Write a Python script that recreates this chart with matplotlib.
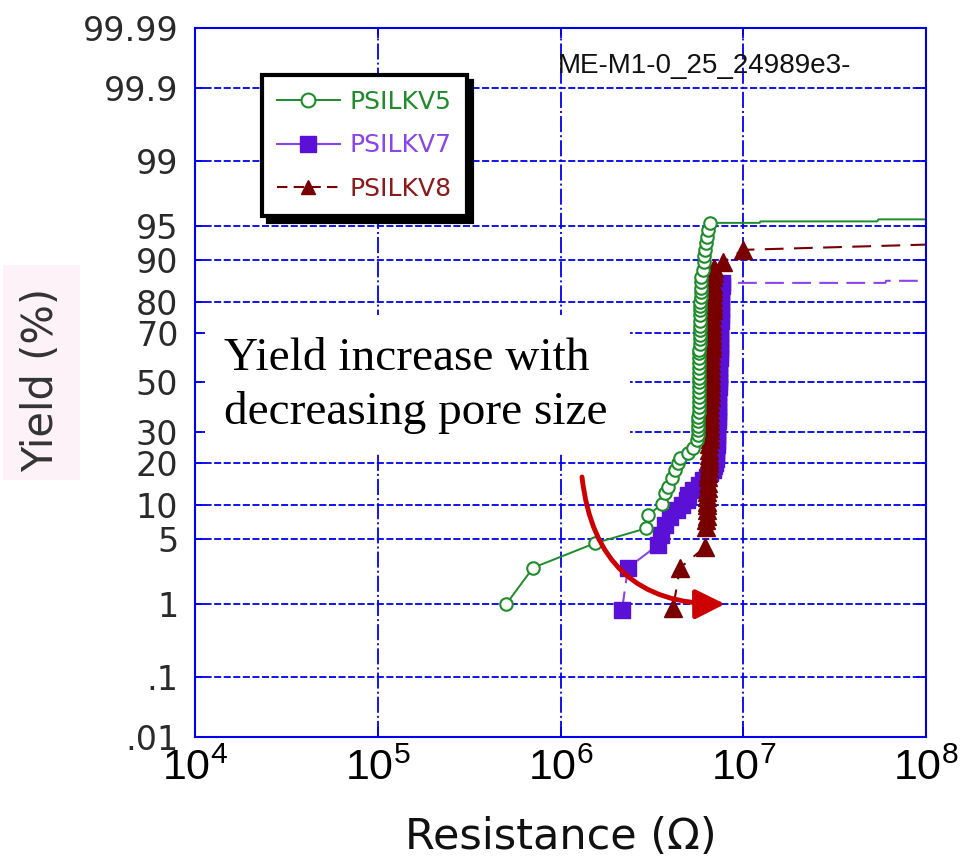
import math
import numpy as np
import matplotlib
matplotlib.use('Agg')
import matplotlib.pyplot as plt
from matplotlib.lines import Line2D
from matplotlib.patches import Rectangle
from matplotlib.ticker import NullLocator

# PSILKV5 (open circles) - resistance in ohm, cumulative yield in %
psilkv5_r = [5.04e5, 7.08e5, 1.55e6, 2.94e6, 3.01e6, 3.59e6, 3.73e6, 3.87e6, 4.07e6,
             4.23e6, 4.40e6, 4.51e6, 4.99e6, 5.31e6, 5.58e6,
             5.62e6, 5.65e6, 5.67e6, 5.68e6, 5.69e6, 5.70e6, 5.70e6, 5.71e6, 5.71e6,
             5.72e6, 5.72e6, 5.73e6, 5.73e6, 5.74e6, 5.74e6, 5.75e6, 5.75e6, 5.76e6,
             5.76e6, 5.77e6, 5.77e6, 5.78e6, 5.78e6, 5.79e6, 5.80e6, 5.80e6, 5.81e6,
             5.82e6, 5.83e6, 5.84e6, 5.85e6, 5.86e6, 5.88e6, 5.90e6,
             6.00e6, 6.08e6, 6.12e6, 6.18e6, 6.25e6, 6.34e6, 6.45e6, 6.58e6]
psilkv5_y = [1.0, 2.6, 4.6, 6.3, 8.2, 10.1, 12.3, 13.6, 15.8,
             17.9, 19.9, 21.4, 23.0, 24.6, 27.3,
             29, 31, 32.5, 34.5, 36, 38, 40, 42, 44,
             46, 48, 50, 52, 54, 56, 58, 60, 62,
             63.5, 65.5, 67.5, 69, 71, 72.5, 74, 76, 77.5,
             79, 80, 81.5, 83, 84, 85.5, 86.5,
             88, 89.7, 90.8, 91.8, 92.8, 93.7, 94.5, 95.3]
psilkv5_tail_r = [1.23e7, 1.24e7, 5.4e7, 5.5e7, 3e8]
psilkv5_tail_y = [95.3, 95.45, 95.45, 95.65, 95.65]

# PSILKV7 (filled squares)
psilkv7_r = [2.17e6, 2.34e6, 3.41e6, 3.55e6, 3.73e6, 3.97e6, 4.34e6, 4.60e6, 4.92e6,
             5.00e6, 5.31e6, 5.70e6, 6.03e6,
             6.3e6, 6.6e6, 6.8e6, 6.9e6, 7.0e6, 7.05e6, 7.1e6, 7.1e6, 7.15e6, 7.15e6,
             7.2e6, 7.2e6, 7.22e6, 7.24e6, 7.25e6, 7.26e6, 7.28e6, 7.3e6, 7.3e6,
             7.32e6, 7.33e6, 7.35e6, 7.36e6, 7.38e6, 7.4e6, 7.4e6, 7.42e6, 7.44e6,
             7.45e6, 7.46e6, 7.48e6, 7.5e6, 7.5e6, 7.52e6, 7.54e6, 7.55e6, 7.55e6]
psilkv7_y = [0.85, 2.6, 4.4, 5.5, 6.7, 7.9, 9.0, 10.0, 10.9,
             12.0, 13.0, 14.0, 15.3,
             16, 17, 18, 19, 20, 21, 22.5, 24, 25.5, 27,
             29, 31, 32.5, 34.5, 36, 38, 40, 42, 44,
             46, 48, 50, 52, 54, 56, 58, 60, 62,
             64, 66, 68, 70, 72, 74, 76, 78, 80]
psilkv7_top_r = [7.58e6, 7.6e6, 7.62e6, 7.65e6]
psilkv7_top_y = [81.5, 83, 84.5, 85.2]
psilkv7_tail_r = [6.0e7, 6.05e7, 3e8]
psilkv7_tail_y = [85.2, 85.7, 85.7]

# PSILKV8 (filled triangles)
psilkv8_r = [4.13e6, 4.51e6, 6.18e6,
             6.25e6, 6.28e6, 6.30e6, 6.30e6, 6.32e6, 6.33e6, 6.35e6, 6.36e6, 6.38e6,
             6.40e6, 6.42e6, 6.44e6, 6.46e6, 6.48e6, 6.50e6, 6.50e6, 6.52e6, 6.53e6,
             6.54e6, 6.55e6, 6.56e6, 6.57e6, 6.58e6, 6.59e6, 6.60e6, 6.60e6, 6.61e6,
             6.62e6, 6.63e6, 6.64e6, 6.65e6, 6.66e6, 6.67e6, 6.68e6, 6.69e6, 6.70e6,
             6.70e6, 6.71e6, 6.72e6, 6.73e6, 6.74e6, 6.75e6, 6.76e6, 6.77e6, 6.78e6,
             6.79e6, 6.80e6, 6.80e6, 6.82e6, 6.83e6, 6.84e6, 6.85e6, 6.87e6, 6.90e6,
             6.95e6, 7.75e6, 9.99e6]
psilkv8_y = [0.9, 2.6, 4.2,
             6.5, 7.5, 8, 9, 10, 10.5, 11.5, 12.5, 13.5,
             14.5, 16, 17, 18.5, 20, 21, 22.5, 24, 26,
             27.5, 29, 31, 32.5, 34.5, 36, 38, 40, 42,
             44, 46, 48, 50, 52, 54, 56, 58, 60,
             62, 64, 65.5, 67.5, 69, 71, 72.5, 74, 76,
             77.5, 79, 80, 81.5, 83, 84, 85, 86.5, 87.5,
             88.5, 89.7, 91.8]
psilkv8_tail_r = [1.0e8]
psilkv8_tail_y = [92.6]

yticks = [0.01, 0.1, 1, 5, 10, 20, 30, 50, 70, 80, 90, 95, 99, 99.9, 99.99]
ylabels = ['.01', '.1', '1', '5', '10', '20', '30', '50', '70', '80', '90', '95',
           '99', '99.9', '99.99']
xticks = [1e4, 1e5, 1e6, 1e7, 1e8]
xlabels = [r'$\mathdefault{10^{%d}}$' % k for k in range(4, 9)]

green = '#1e8c2a'
purple = '#5a10d6'
purple_line = '#8a45ea'
darkred = '#780000'
blue = '#0000ee'

W, H = 963, 863
fig = plt.figure(figsize=(W / 100, H / 100), dpi=100)
ax = fig.add_axes([195 / W, 1 - 737 / H, (926 - 195) / W, (737 - 28) / H])

# normal probability scale for the yield axis
zgrid = np.linspace(-6, 6, 12001)
pgrid = 50 * (1 + np.vectorize(math.erf)(zgrid / math.sqrt(2)))


def prob_fwd(p):
    return np.interp(p, pgrid, zgrid)


def prob_inv(z):
    return np.interp(z, zgrid, pgrid)


ax.set_xscale('log')
ax.set_yscale('function', functions=(prob_fwd, prob_inv))

r7 = psilkv7_r + psilkv7_top_r
y7 = psilkv7_y + psilkv7_top_y
ax.plot(r7 + psilkv7_tail_r, y7 + psilkv7_tail_y, color=purple_line,
        lw=1.5, dashes=(9, 4), marker='s', ms=12, mfc=purple, mec=purple,
        markevery=list(range(len(r7))))
ax.plot(psilkv8_r + psilkv8_tail_r, psilkv8_y + psilkv8_tail_y, color=darkred,
        lw=1.5, dashes=(9, 5), marker='^', ms=12.5, mfc=darkred, mec=darkred,
        markevery=list(range(len(psilkv8_r))))
ax.plot(psilkv5_r + psilkv5_tail_r, psilkv5_y + psilkv5_tail_y, color=green,
        lw=1.4, marker='o', ms=9, mfc='white', mec=green, mew=1.5,
        markevery=list(range(len(psilkv5_r))))

ax.set_xlim(1e4, 1e8)
ax.set_ylim(0.01, 99.99)
ax.set_xticks(xticks, labels=xlabels, fontsize=31, fontfamily='Liberation Sans')
ax.set_yticks(yticks, labels=ylabels, fontsize=24, fontfamily='DejaVu Sans',
              color='#2a2a2a')
ax.xaxis.set_minor_locator(NullLocator())
ax.yaxis.set_minor_locator(NullLocator())
ax.tick_params(which='both', direction='in', length=7, width=1.3, color=blue,
               top=True, right=True)
ax.tick_params(axis='x', pad=8)
ax.tick_params(axis='y', pad=12)
ax.xaxis.grid(True, color=blue, lw=1.3, linestyle=(0, (8.9, 1.7, 1.1, 1.7)))
ax.yaxis.grid(True, color=blue, lw=1.3, linestyle=(0, (3.9, 1.4)))
for s in ax.spines.values():
    s.set_color(blue)
    s.set_linewidth(1.5)

ax.set_xlabel('Resistance (\u03a9)', fontsize=31, fontfamily='DejaVu Sans',
              color='#111111', labelpad=20)

# y label with its pale pink backing
fig.patches.append(Rectangle((3 / W, 1 - 480 / H), 77 / W, 215 / H,
                             transform=fig.transFigure, facecolor='#fdf2f8',
                             edgecolor='none'))
fig.text(41 / W, 1 - 380 / H, 'Yield (%)', rotation=90, ha='center', va='center',
         fontsize=30, fontfamily='DejaVu Sans', color='#333333')

fig.text(558 / W, 1 - 66 / H, 'ME-M1-0_25_24989e3-', ha='left', va='center',
         fontsize=20, fontfamily='Liberation Sans', color='#111111')

# legend
handles = [
    Line2D([], [], color=green, lw=1.4, marker='o', ms=10, mfc='white', mec=green,
           mew=1.5),
    Line2D([], [], color=purple_line, lw=1.5, marker='s', ms=12, mfc=purple,
           mec=purple),
    Line2D([], [], color=darkred, lw=1.5, dashes=(5, 3), marker='^', ms=10,
           mfc=darkred, mec=darkred),
]
leg = ax.legend(handles, ['PSILKV5', 'PSILKV7', 'PSILKV8'], loc='upper left',
                bbox_to_anchor=(262 / W, 1 - 75 / H), bbox_transform=fig.transFigure,
                borderaxespad=0, prop={'family': 'DejaVu Sans', 'size': 18},
                labelcolor=[green, '#8a45ea', '#8b1a1a'], fancybox=False,
                framealpha=1, edgecolor='black', handlelength=2.5, handletextpad=0.4,
                borderpad=0.6, labelspacing=0.78,
                shadow={'ox': 4, 'oy': -4, 'color': 'black', 'alpha': 1})
leg.get_frame().set_linewidth(3)

# annotation box and arrow
fig.patches.append(Rectangle((205 / W, 1 - 452 / H), 425 / W, 137 / H,
                             transform=fig.transFigure, facecolor='white',
                             edgecolor='none'))
fig.text(224 / W, 1 - 337 / H, 'Yield increase with\ndecreasing pore size',
         ha='left', va='top', fontsize=34, fontfamily='Liberation Serif',
         color='black', linespacing=1.36)
ax.annotate('', xy=(725 / W, 1 - 604 / H), xytext=(582 / W, 1 - 477 / H),
            xycoords='figure fraction', textcoords='figure fraction',
            arrowprops=dict(arrowstyle='-|>,head_length=0.6,head_width=0.3',
                            connectionstyle='arc3,rad=0.45',
                            lw=3.5, color='#cc0000', mutation_scale=30,
                            shrinkA=0, shrinkB=0))

fig.savefig('out.png', dpi=100)
